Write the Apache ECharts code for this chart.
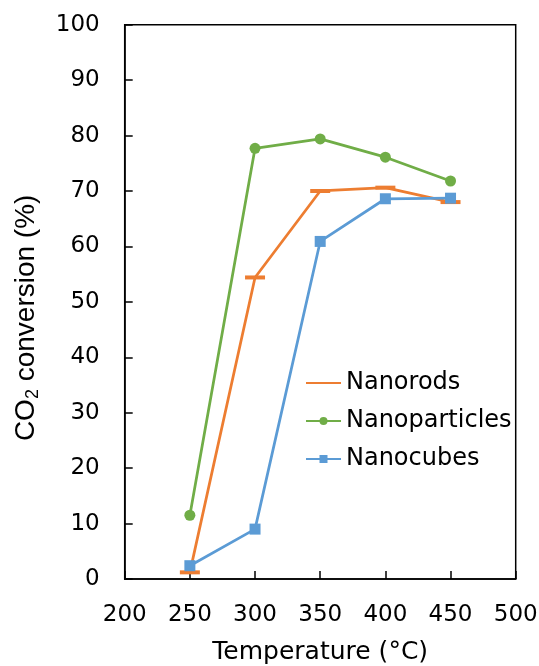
<!DOCTYPE html>
<html>
<head>
<meta charset="utf-8">
<script src="https://cdn.jsdelivr.net/npm/echarts@6/dist/echarts.min.js"></script>
<style>html,body{margin:0;padding:0;background:#fff}#c{width:539px;height:666px}</style>
</head>
<body>
<div id="c"></div>
<script>
const temperatures = [250, 300, 350, 400, 450];
const nanorods = [1.2, 54.4, 70.0, 70.6, 68.0];
const nanoparticles = [11.5, 77.7, 79.4, 76.1, 71.8];
const nanocubes = [2.4, 9.0, 60.9, 68.6, 68.7];
const seriesNames = ['Nanorods', 'Nanoparticles', 'Nanocubes'];

const pairs = (xs, ys) => xs.map((x, i) => [x, ys[i]]);
const FONT = 'DejaVu Sans';

const chart = echarts.init(document.getElementById('c'), null, {renderer: 'canvas'});
chart.setOption({
  animation: false,
  backgroundColor: '#fff',
  grid: {left: 124.7, right: 23.3, top: 24.7, bottom: 87, outerBoundsMode: 'none', containLabel: false,
         show: true, borderColor: '#000', borderWidth: 1.5, backgroundColor: 'transparent'},
  legend: {
    orient: 'vertical', left: 300, top: 366, itemWidth: 35, itemHeight: 10, itemGap: 14,
    textStyle: {fontFamily: FONT, fontSize: 24, color: '#000'},
    data: [{name: seriesNames[0], itemStyle: {opacity: 0}}, seriesNames[1], seriesNames[2]]
  },
  xAxis: {
    type: 'value', min: 200, max: 500, interval: 50,
    name: 'Temperature (°C)', nameLocation: 'middle', nameGap: 61,
    nameTextStyle: {fontFamily: FONT, fontSize: 25, color: '#000'},
    axisLine: {show: true, lineStyle: {color: '#000', width: 1.5}},
    axisTick: {show: true, inside: true, length: 8, lineStyle: {color: '#000', width: 1.5}},
    axisLabel: {fontFamily: FONT, fontSize: 23, color: '#000', margin: 25},
    splitLine: {show: false}
  },
  yAxis: {
    type: 'value', min: 0, max: 100, interval: 10,
    name: '{a|CO}{s|2}{a| conversion (%)}', nameLocation: 'middle', nameGap: 83,
    nameTextStyle: {
      padding: [0, 32, 0, 0],
      rich: {
        a: {fontFamily: 'Liberation Sans', fontSize: 28, color: '#000'},
        s: {fontFamily: 'Liberation Sans', fontSize: 18, color: '#000', padding: [12, 0, 0, 0]}
      }
    },
    axisLine: {show: true, lineStyle: {color: '#000', width: 1.5}},
    axisTick: {show: true, inside: true, length: 8, lineStyle: {color: '#000', width: 1.5}},
    axisLabel: {fontFamily: FONT, fontSize: 23, color: '#000', margin: 25},
    splitLine: {show: false}
  },
  series: [
    {name: seriesNames[0], type: 'line', data: pairs(temperatures, nanorods), color: '#ED7D31',
     lineStyle: {width: 2.75}, symbol: 'rect', symbolSize: [20, 4], itemStyle: {color: '#ED7D31'}},
    {name: seriesNames[1], type: 'line', data: pairs(temperatures, nanoparticles), color: '#70AD47',
     lineStyle: {width: 2.75}, symbol: 'circle', symbolSize: 11, itemStyle: {color: '#70AD47'}},
    {name: seriesNames[2], type: 'line', data: pairs(temperatures, nanocubes), color: '#5B9BD5',
     lineStyle: {width: 2.75}, symbol: 'rect', symbolSize: 11, itemStyle: {color: '#5B9BD5'}}
  ]
});
</script>
</body>
</html>
